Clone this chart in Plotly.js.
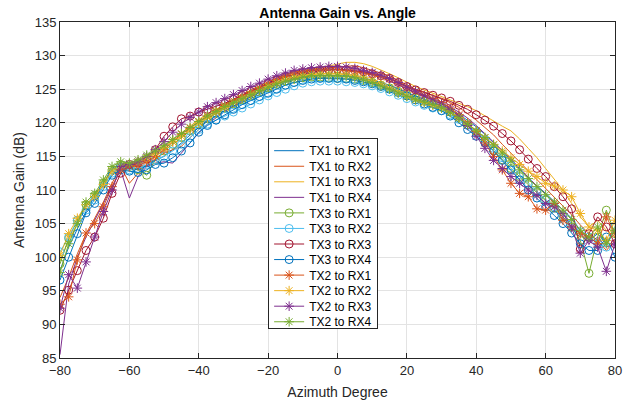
<!DOCTYPE html>
<html><head><meta charset="utf-8">
<script src="https://cdn.plot.ly/plotly-3.0.1.min.js"></script>
<style>html,body{margin:0;padding:0;background:#fff}#chart{width:631px;height:404px}</style>
</head><body><div id="chart"></div>
<script>
const azimuth = [
  -80, -77.5, -75, -72.5, -70, -67.5, -65, -62.5, -60, -57.5, -55, -52.5, -50,
  -47.5, -45, -42.5, -40, -37.5, -35, -32.5, -30, -27.5, -25, -22.5, -20, -17.5,
  -15, -12.5, -10, -7.5, -5, -2.5, 0, 2.5, 5, 7.5, 10, 12.5, 15,
  17.5, 20, 22.5, 25, 27.5, 30, 32.5, 35, 37.5, 40, 42.5, 45, 47.5,
  50, 52.5, 55, 57.5, 60, 62.5, 65, 67.5, 70, 72.5, 75, 77.5, 80
];
const tx1rx1 = [
  98.0, 101.5, 104.2, 106.8, 108.6, 110.8, 113.2, 114.0, 113.2, 113.0, 113.6, 114.5, 115.0,
  116.0, 117.0, 118.2, 119.3, 120.2, 121.0, 121.8, 122.4, 123.0, 123.6, 124.2, 124.9, 125.5,
  126.0, 126.5, 126.8, 127.0, 127.0, 127.1, 127.0, 127.0, 126.9, 126.7, 126.4, 126.0, 125.6,
  125.0, 124.5, 124.0, 123.5, 123.0, 122.6, 122.0, 121.3, 120.4, 119.4, 118.3, 117.0, 115.8,
  114.5, 113.2, 111.8, 110.6, 109.5, 108.3, 107.0, 105.8, 104.0, 102.5, 103.5, 102.0, 104.0
];
const tx1rx2 = [
  94.0, 97.0, 100.5, 103.5, 105.8, 108.2, 111.0, 113.5, 111.0, 112.5, 113.8, 114.6, 115.5,
  116.0, 116.5, 117.8, 119.0, 120.5, 121.6, 122.6, 123.5, 124.2, 124.9, 125.5, 126.1, 126.7,
  127.2, 127.6, 127.8, 128.0, 128.1, 128.2, 128.3, 128.5, 128.5, 128.2, 127.8, 127.4, 127.0,
  126.3, 125.6, 125.0, 124.6, 124.1, 123.6, 123.0, 122.3, 121.4, 120.4, 119.3, 118.2, 116.8,
  115.5, 114.2, 112.8, 111.5, 110.2, 109.0, 107.6, 106.3, 104.8, 103.5, 102.5, 101.0, 102.5
];
const tx1rx3 = [
  99.5, 102.5, 105.0, 107.5, 109.3, 111.2, 113.0, 113.8, 113.6, 114.0, 114.6, 115.5, 116.5,
  117.5, 118.5, 119.5, 120.5, 121.3, 122.0, 122.8, 123.5, 124.2, 124.8, 125.4, 126.0, 126.6,
  127.1, 127.5, 127.8, 128.0, 128.2, 128.5, 128.8, 129.0, 129.0, 128.8, 128.4, 127.9, 127.3,
  126.7, 126.0, 125.4, 124.9, 124.4, 124.0, 123.5, 122.9, 122.4, 121.8, 121.0, 120.2, 119.5,
  118.8, 117.6, 116.2, 114.8, 113.2, 111.6, 110.0, 108.0, 106.0, 104.5, 105.5, 104.0, 103.0
];
const tx1rx4 = [
  85.5, 96.0, 100.0, 103.0, 105.5, 108.0, 110.5, 113.0, 108.8, 112.0, 113.5, 114.0, 114.2,
  114.0, 115.5, 117.0, 118.5, 119.8, 120.8, 121.7, 122.5, 123.2, 123.8, 124.5, 125.2, 125.8,
  126.3, 126.8, 127.2, 127.5, 127.7, 127.8, 127.9, 127.8, 127.7, 127.5, 127.2, 126.8, 126.2,
  125.6, 125.0, 124.4, 123.9, 123.4, 122.9, 122.3, 121.6, 120.7, 119.6, 118.4, 117.2, 115.9,
  114.6, 113.2, 111.9, 110.6, 109.4, 108.0, 106.5, 105.0, 103.5, 102.0, 103.0, 101.5, 102.0
];
const tx3rx1 = [
  99.0, 102.8, 105.5, 107.8, 109.2, 111.0, 113.0, 113.8, 113.5, 113.0, 112.2, 114.5, 115.8,
  116.8, 117.8, 118.8, 119.8, 120.6, 121.4, 122.1, 122.8, 123.4, 124.0, 124.6, 125.2, 125.7,
  126.2, 126.5, 126.7, 126.8, 126.8, 126.7, 126.6, 126.6, 126.5, 126.3, 126.0, 125.6, 125.2,
  124.7, 124.2, 123.7, 123.2, 122.8, 122.3, 121.6, 120.8, 119.7, 118.5, 117.2, 115.9, 114.5,
  113.2, 112.0, 110.8, 109.6, 108.5, 107.3, 106.0, 104.5, 102.5, 97.6, 103.0, 107.0, 103.5
];
const tx3rx2 = [
  100.8, 103.0, 105.5, 107.0, 108.5, 110.5, 112.5, 113.3, 113.0, 113.2, 113.8, 114.5, 115.0,
  115.8, 116.8, 117.8, 119.0, 119.8, 120.4, 121.0, 121.6, 122.2, 122.8, 123.4, 124.0, 124.5,
  125.0, 125.5, 125.9, 126.1, 126.2, 126.2, 126.2, 126.1, 126.0, 125.8, 125.5, 125.1, 124.6,
  124.1, 123.6, 123.1, 122.6, 122.2, 121.8, 121.2, 120.5, 119.6, 118.6, 117.5, 116.2, 114.8,
  113.6, 112.3, 111.0, 109.8, 108.6, 107.5, 106.3, 105.0, 103.8, 103.0, 102.0, 101.5, 104.5
];
const tx3rx3 = [
  92.1, 95.1, 98.0, 101.0, 103.0, 105.8, 109.5, 112.5, 113.8, 114.0, 114.6, 116.0, 118.0,
  119.4, 120.6, 121.0, 121.6, 122.0, 122.4, 122.9, 123.5, 124.1, 124.7, 125.3, 125.9, 126.4,
  126.9, 127.2, 127.5, 127.7, 127.8, 127.9, 128.0, 127.9, 127.8, 127.6, 127.3, 127.0, 126.6,
  126.0, 125.4, 124.9, 124.5, 124.1, 123.7, 123.2, 122.6, 122.0, 121.2, 120.4, 119.5, 118.4,
  117.3, 116.0, 114.6, 113.2, 112.0, 110.5, 109.0, 107.2, 101.2, 103.5, 106.0, 104.5, 102.0
];
const tx3rx4 = [
  96.6, 100.0, 103.5, 106.6, 108.0, 110.0, 112.2, 113.0, 112.8, 112.6, 113.0, 113.8, 114.0,
  114.8, 115.8, 117.0, 118.6, 119.6, 120.4, 121.2, 122.0, 122.7, 123.3, 123.9, 124.4, 125.0,
  125.6, 126.0, 126.3, 126.5, 126.6, 126.6, 126.6, 126.5, 126.3, 126.1, 125.8, 125.4, 125.0,
  124.5, 124.0, 123.4, 122.8, 122.3, 121.8, 121.0, 120.0, 119.0, 118.0, 117.0, 115.8, 114.4,
  113.0, 111.5, 110.0, 108.8, 107.5, 106.2, 105.0, 103.6, 102.0, 101.0, 101.0, 103.0, 100.0
];
const tx2rx1 = [
  93.0, 94.1, 99.6, 103.6, 105.0, 107.5, 110.5, 113.0, 113.5, 113.6, 114.2, 115.0, 116.0,
  117.2, 118.3, 119.2, 120.2, 121.0, 121.8, 122.6, 123.3, 124.0, 124.6, 125.2, 125.8, 126.4,
  126.9, 127.3, 127.6, 127.8, 127.9, 128.0, 127.9, 127.8, 127.6, 127.4, 127.2, 126.9, 126.5,
  125.9, 125.2, 124.6, 124.1, 123.6, 123.0, 122.2, 121.2, 120.0, 118.7, 117.0, 115.0, 113.0,
  111.0, 109.5, 109.0, 107.2, 107.0, 108.0, 105.5, 104.5, 103.5, 103.0, 102.0, 106.0, 103.5
];
const tx2rx2 = [
  100.3, 103.5, 105.8, 107.8, 109.0, 110.8, 112.8, 113.5, 113.8, 114.2, 114.8, 115.5, 116.3,
  117.2, 118.0, 119.0, 120.0, 120.8, 121.6, 122.3, 123.0, 123.6, 124.2, 124.8, 125.4, 125.9,
  126.4, 126.8, 127.0, 127.2, 127.3, 127.3, 127.3, 127.2, 127.0, 126.7, 126.3, 125.8, 125.2,
  124.6, 124.0, 123.4, 123.0, 122.6, 122.2, 121.6, 120.8, 119.8, 118.8, 117.8, 116.8, 115.8,
  114.8, 113.8, 112.8, 112.0, 111.0, 110.6, 110.0, 109.0, 106.5, 104.5, 104.0, 102.5, 105.5
];
const tx2rx3 = [
  92.4, 97.4, 95.4, 99.3, 103.0, 106.8, 110.0, 113.5, 113.8, 114.2, 115.0, 116.0, 117.2,
  118.6, 119.8, 120.8, 121.6, 122.4, 123.0, 123.6, 124.2, 124.8, 125.4, 125.9, 126.5, 127.0,
  127.4, 127.8, 128.0, 128.2, 128.3, 128.4, 128.4, 128.3, 128.1, 127.8, 127.5, 127.1, 126.6,
  126.0, 125.3, 124.7, 124.0, 123.4, 122.8, 122.0, 121.0, 119.6, 118.0, 116.2, 114.4, 113.2,
  112.0, 111.0, 110.0, 109.2, 108.0, 107.5, 106.5, 104.5, 100.6, 102.5, 101.5, 97.9, 102.0
];
const tx2rx4 = [
  97.7, 102.0, 105.0, 108.2, 109.5, 111.5, 113.5, 114.2, 114.0, 114.5, 115.2, 115.8, 116.6,
  117.5, 118.4, 119.3, 120.2, 121.0, 121.7, 122.4, 123.0, 123.6, 124.2, 124.8, 125.3, 125.8,
  126.2, 126.5, 126.8, 127.0, 127.0, 127.0, 127.0, 126.9, 126.7, 126.4, 126.0, 125.5, 125.0,
  124.4, 123.9, 123.5, 123.1, 122.7, 122.2, 121.5, 120.7, 119.8, 118.8, 117.8, 116.7, 115.5,
  114.3, 113.0, 111.7, 110.5, 109.3, 108.2, 107.0, 105.6, 104.0, 103.0, 104.5, 102.0, 104.0
];

const seriesNames = ['TX1 to RX1','TX1 to RX2','TX1 to RX3','TX1 to RX4',
  'TX3 to RX1','TX3 to RX2','TX3 to RX3','TX3 to RX4',
  'TX2 to RX1','TX2 to RX2','TX2 to RX3','TX2 to RX4'];
const seriesValues = [tx1rx1, tx1rx2, tx1rx3, tx1rx4, tx3rx1, tx3rx2, tx3rx3, tx3rx4,
  tx2rx1, tx2rx2, tx2rx3, tx2rx4];
const seriesColors = ['#0072BD','#D95319','#EDB120','#7E2F8E','#77AC30','#4DBEEE','#A2142F',
  '#0072BD','#D95319','#EDB120','#7E2F8E','#77AC30'];
const seriesMarkers = ['none','none','none','none','circle-open','circle-open','circle-open','circle-open',
  'asterisk-open','asterisk-open','asterisk-open','asterisk-open'];

const traces = seriesNames.map((name, i) => {
  const t = {
    x: azimuth, y: seriesValues[i], name: name, type: 'scatter',
    mode: seriesMarkers[i] === 'none' ? 'lines' : 'lines+markers',
    line: {color: seriesColors[i], width: 1}
  };
  if (seriesMarkers[i] !== 'none') {
    t.marker = {symbol: seriesMarkers[i], size: 8, color: seriesColors[i], line: {width: 1, color: seriesColors[i]}};
  }
  return t;
});

const font = 'Liberation Sans, Arial, Helvetica, sans-serif';
const layout = {
  width: 631, height: 404,
  margin: {l: 60, r: 16, t: 22, b: 46},
  paper_bgcolor: '#ffffff', plot_bgcolor: '#ffffff',
  font: {family: font, size: 13, color: '#262626'},
  title: {text: 'Antenna Gain vs. Angle', font: {family: font, size: 14, color: '#000000', weight: 'bold'},
    x: 0.535, xanchor: 'center', y: 0.968, yanchor: 'middle'},
  showlegend: true,
  legend: {x: 0.375, xanchor: 'left', y: 0.37, yanchor: 'middle',
    bgcolor: '#ffffff', bordercolor: '#262626', borderwidth: 1,
    font: {family: font, size: 12, color: '#000000'}},
  xaxis: {range: [-80, 80], dtick: 20, tick0: -80, showgrid: true, gridcolor: '#e3e3e3', gridwidth: 1,
    showline: true, linecolor: '#262626', linewidth: 1, mirror: 'ticks', ticks: 'inside', ticklen: 5,
    tickcolor: '#262626', zeroline: false, tickfont: {size: 13, color: '#262626'},
    title: {text: 'Azimuth Degree', font: {size: 14, color: '#262626'}, standoff: 10}},
  yaxis: {range: [85, 135], dtick: 5, tick0: 85, showgrid: true, gridcolor: '#e3e3e3', gridwidth: 1,
    showline: true, linecolor: '#262626', linewidth: 1, mirror: 'ticks', ticks: 'inside', ticklen: 5,
    tickcolor: '#262626', zeroline: false, tickfont: {size: 13, color: '#262626'},
    title: {text: 'Antenna Gain (dB)', font: {size: 14, color: '#262626'}, standoff: 6}}
};

function tightenLegend(gd) {
  const leg = gd.querySelector('g.legend');
  if (!leg) return;
  const re = /translate\(\s*([-\d.eE]+)[ ,]+([-\d.eE]+)/;
  const items = Array.from(leg.querySelectorAll('g.traces'));
  if (items.length < 2) return;
  const step = 15.55, firstY = 12.7;
  items.forEach((g, i) => {
    const m = re.exec(g.getAttribute('transform') || '');
    const tx = m ? parseFloat(m[1]) : 0;
    g.setAttribute('transform', 'translate(' + tx + ',' + (firstY + i * step) + ')');
  });
  const bg = leg.querySelector('rect.bg');
  if (bg) bg.setAttribute('height', 190);
  const lm = re.exec(leg.getAttribute('transform') || '');
  if (lm) leg.setAttribute('transform', 'translate(' + lm[1] + ',138)');
}

Plotly.newPlot('chart', traces, layout, {displayModeBar: false, staticPlot: true}).then(tightenLegend);
</script>
</body></html>
